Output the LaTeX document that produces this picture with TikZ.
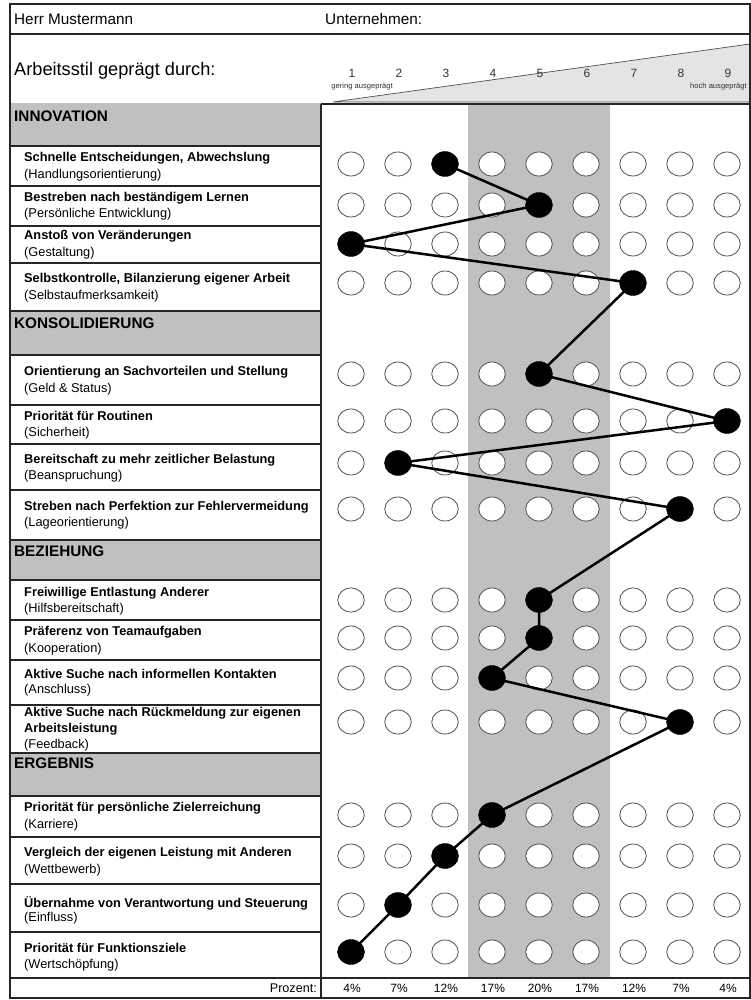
\documentclass[tikz,border=0pt]{standalone}
\usepackage{fontspec}
\setmainfont{Liberation Sans}
\usetikzlibrary{shapes.geometric}
\definecolor{bandgray}{HTML}{C0C0C0}
\definecolor{trigray}{HTML}{E4E4E4}
\definecolor{rimgray}{HTML}{505050}
\begin{document}
\begin{tikzpicture}[x=1pt,y=-1pt,
  frame/.style={line width=1.4pt, draw=black!85},
  rowline/.style={line width=1.2pt, draw=black!85},
  cattext/.style={anchor=west, inner sep=0pt, font=\fontsize{15.3}{17}\selectfont\bfseries},
  lbl/.style={anchor=west, inner sep=0pt, font=\fontsize{12.8}{14}\selectfont\bfseries},
  sublbl/.style={anchor=west, inner sep=0pt, font=\fontsize{12.8}{14}\selectfont},
  headtext/.style={anchor=west, inner sep=0pt, font=\fontsize{15.3}{17}\selectfont},
  digit/.style={inner sep=0pt, font=\fontsize{12}{14}\selectfont, text=black!80},
  tiny/.style={inner sep=0pt, font=\fontsize{7.6}{9}\selectfont, text=black!80},
  pct/.style={inner sep=0pt, font=\fontsize{12}{14}\selectfont},
  dotempty/.style={ellipse, draw=rimgray, line width=0.8pt, fill=white, minimum width=26.5pt, minimum height=24pt, inner sep=0pt},
  dotfull/.style={ellipse, draw=black, fill=black, minimum width=27pt, minimum height=25pt, inner sep=0pt},
  conn/.style={line width=2.5pt, draw=black, line join=round}
]
\useasboundingbox (0,0) rectangle (751,1000);
\fill[white] (0,0) rectangle (751,1000);

% gray band in chart
\fill[bandgray] (468,104) rectangle (610,978);

% category fills
\fill[bandgray] (10,103) rectangle (321,146);
\fill[bandgray] (10,311) rectangle (321,355);
\fill[bandgray] (10,540) rectangle (321,580);
\fill[bandgray] (10,753) rectangle (321,796);

% triangle
\filldraw[fill=trigray, draw=rimgray, line width=0.7pt] (333,102) -- (750,44) -- (750,102) -- cycle;

% frame and lines
\draw[frame] (10,4) rectangle (750,998);
\draw[rowline] (10,34) -- (750,34);
\draw[rowline] (321,104) -- (750,104);
\draw[rowline] (321,104) -- (321,998);
\draw[rowline] (10,978) -- (750,978);
\foreach \yy in {146,186,226,263,311,355,405,444,490,540,580,620,660,705,753,796,837,884,932}
  \draw[rowline] (10,\yy) -- (321,\yy);

% header texts
\node[headtext] (herr) at (14,19) {Herr Mustermann};
\node[headtext] (firma) at (325,19) {Unternehmen:};
\node[anchor=west, inner sep=0pt, font=\fontsize{18.2}{20}\selectfont] (title) at (14,71) {Arbeitsstil geprägt durch:};
\foreach \k in {1,...,9}
  \node[digit] (d\k) at ({352+(\k-1)*47},73) {\k};
\node[tiny] (low) at (362,87) {gering ausgeprägt};
\node[tiny, anchor=east] (high) at (747,87) {hoch ausgeprägt};

% category titles
\node[cattext] (catA) at (14,116) {INNOVATION};
\node[cattext] (catB) at (14,323) {KONSOLIDIERUNG};
\node[cattext] (catC) at (14,551) {BEZIEHUNG};
\node[cattext] (catD) at (14,763) {ERGEBNIS};

% row labels
\foreach \n/\ya/\yb/\ta/\tb in {
  1/158/175/{Schnelle Entscheidungen, Abwechslung}/{(Handlungsorientierung)},
  2/198/214/{Bestreben nach beständigem Lernen}/{(Persönliche Entwicklung)},
  3/236/253/{Anstoß von Veränderungen}/{(Gestaltung)},
  4/279/296/{Selbstkontrolle, Bilanzierung eigener Arbeit}/{(Selbstaufmerksamkeit)},
  5/372/389/{Orientierung an Sachvorteilen und Stellung}/{(Geld \& Status)},
  6/416/433/{Priorität für Routinen}/{(Sicherheit)},
  7/460/476/{Bereitschaft zu mehr zeitlicher Belastung}/{(Beanspruchung)},
  8/507/523/{Streben nach Perfektion zur Fehlervermeidung}/{(Lageorientierung)},
  9/593/609/{Freiwillige Entlastung Anderer}/{(Hilfsbereitschaft)},
  10/632/649/{Präferenz von Teamaufgaben}/{(Kooperation)},
  11/674/690/{Aktive Suche nach informellen Kontakten}/{(Anschluss)},
  13/808/825/{Priorität für persönliche Zielerreichung}/{(Karriere)},
  14/853/870/{Vergleich der eigenen Leistung mit Anderen}/{(Wettbewerb)},
  15/903/918/{Übernahme von Verantwortung und Steuerung}/{(Einfluss)},
  16/948/965/{Priorität für Funktionsziele}/{(Wertschöpfung)}}
{
  \node[lbl] (la\n) at (24,\ya) {\ta};
  \node[sublbl] (lb\n) at (24,\yb) {\tb};
}
\node[lbl] (la12) at (24,713) {Aktive Suche nach Rückmeldung zur eigenen};
\node[lbl] (lc12) at (24,729) {Arbeitsleistung};
\node[sublbl] (lb12) at (24,745) {(Feedback)};

% circles
\foreach \r/\y/\v in {1/164/3, 2/205/5, 3/244/1, 4/283/7, 5/374/5, 6/421/9, 7/463/2, 8/509/8,
                      9/600/5, 10/638/5, 11/678/4, 12/722/8, 13/815/4, 14/856/3, 15/905/2, 16/952/1}
{
  \foreach \k in {1,...,9}
  {
    \ifnum\k=\v
      \node[dotfull] (c\r-\k) at ({351+(\k-1)*47},\y) {};
    \else
      \node[dotempty] (c\r-\k) at ({351+(\k-1)*47},\y) {};
    \fi
  }
}

% profile line
\draw[conn] (c1-3.center) -- (c2-5.center) -- (c3-1.center) -- (c4-7.center)
  -- (c5-5.center) -- (c6-9.center) -- (c7-2.center) -- (c8-8.center)
  -- (c9-5.center) -- (c10-5.center) -- (c11-4.center) -- (c12-8.center)
  -- (c13-4.center) -- (c14-3.center) -- (c15-2.center) -- (c16-1.center);

% percent row
\node[pct, anchor=east, font=\fontsize{12.6}{14}\selectfont] (prozent) at (317,988) {Prozent:};
\foreach \k/\p in {1/4,2/7,3/12,4/17,5/20,6/17,7/12,8/7,9/4}
  \node[pct] (p\k) at ({352+(\k-1)*47},988) {\p\%};
\end{tikzpicture}
\end{document}
